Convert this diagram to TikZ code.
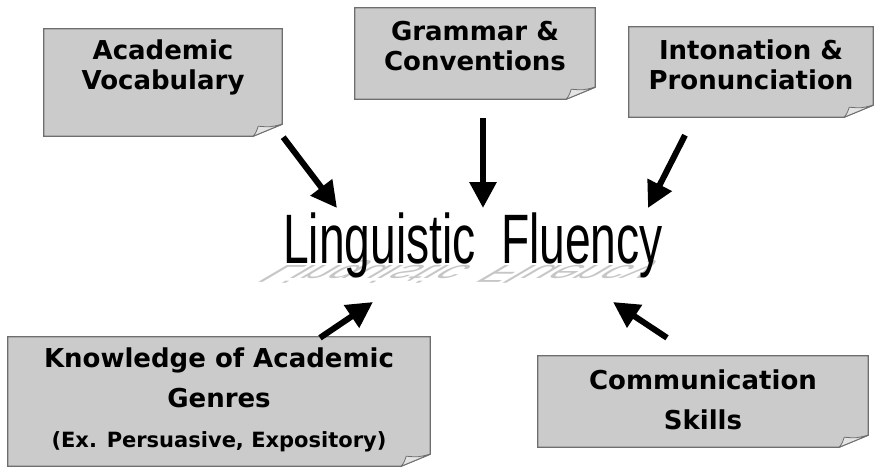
\documentclass[tikz,border=0pt]{standalone}
\usepackage{fontspec}
\usepackage{tikz}
\usetikzlibrary{arrows.meta,positioning}
\newfontfamily\notefont{DejaVu Sans}
\newfontfamily\flufont{Liberation Sans}
\definecolor{notegray}{HTML}{CBCBCB}
\definecolor{noteline}{HTML}{6E6E6E}
\definecolor{foldgray}{HTML}{E4E4E4}
\tikzstyle{note} = [rectangle, inner sep=0pt]
\tikzstyle{notetext} = [align=center, inner sep=0pt, text=black,
 font=\notefont\bfseries\fontsize{26}{30}\selectfont]
\tikzstyle{fluency} = [anchor=base, inner sep=0pt, xscale=0.66,
 font=\flufont\fontsize{70}{70}\selectfont]
\tikzstyle{arrowline} = [draw, line width=6pt, -{Triangle[length=26pt,width=26pt]}]
% paper note with a curled corner
\newcommand{\notebox}[1]{%
  \filldraw[fill=notegray, draw=noteline, line width=1.3pt]
    (#1.north west) -- (#1.north east) -- ([yshift=12pt]#1.south east)
    -- ([xshift=-29pt]#1.south east) -- (#1.south west) -- cycle;
  \filldraw[fill=foldgray, draw=noteline, line width=0.8pt]
    ([yshift=12pt]#1.south east) .. controls ([shift={(-12pt,9pt)}]#1.south east) .. ([shift={(-24pt,10pt)}]#1.south east)
    .. controls ([shift={(-26pt,4pt)}]#1.south east) .. ([xshift=-29pt]#1.south east) -- cycle;
}

\begin{document}
\begin{tikzpicture}[x=1pt, y=-1pt]
        \useasboundingbox (0,0) rectangle (878,469);

        \node[note, minimum width=238pt, minimum height=107pt] (voc)   at (163,82.5) {};
        \node[note, minimum width=240pt, minimum height=91pt]  (gram)  at (475,53.5) {};
        \node[note, minimum width=244pt, minimum height=90pt]  (inton) at (751,72) {};
        \node[note, minimum width=422pt, minimum height=129pt] (genre) at (219,401.5) {};
        \node[note, minimum width=330pt, minimum height=91pt]  (comm)  at (703,401.5) {};

        \notebox{voc}
        \notebox{gram}
        \notebox{inton}
        \notebox{genre}
        \notebox{comm}

        \node[notetext] (vocT)   at ([yshift=15pt]voc.center)  {Academic\\Vocabulary};
        \node[notetext] (gramT)  at ([yshift=7pt]gram.center)  {Grammar \&\\Conventions};
        \node[notetext] (intonT) at ([yshift=7pt]inton.center) {Intonation \&\\Pronunciation};
        \node[notetext, font=\notefont\bfseries\fontsize{26}{40}\selectfont] (genreT) at ([yshift=2pt]genre.center)
            {Knowledge of Academic\\Genres\\{\fontsize{21}{30}\selectfont (Ex. Persuasive, Expository)}};
        \node[notetext, font=\notefont\bfseries\fontsize{26}{40}\selectfont] (commT) at ([yshift=2pt]comm.center)
            {Communication\\Skills};

        % reflection under the title
        \node[fluency, text=gray!45, yscale=-0.35, xslant=-0.9] (fluS) at (473,265) {Linguistic\hskip0.55em Fluency};
        \node[fluency] (flu) at (473,263) {Linguistic\hskip0.55em Fluency};

        \path[arrowline] ([shift={(1,1)}]voc.south east) -- ([shift={(-136,-55)}]flu.base);
        \path[arrowline] ([shift={(8,19)}]gram.south)    -- ([shift={(10,-55)}]flu.base);
        \path[arrowline] ([shift={(-66,18)}]inton.south) -- ([shift={(175,-55)}]flu.base);
        \path[arrowline] ([shift={(101,1)}]genre.north)  -- ([shift={(-100,39)}]flu.base);
        \path[arrowline] ([shift={(-36,-18)}]comm.north) -- ([shift={(140,39)}]flu.base);
\end{tikzpicture}
\end{document}
